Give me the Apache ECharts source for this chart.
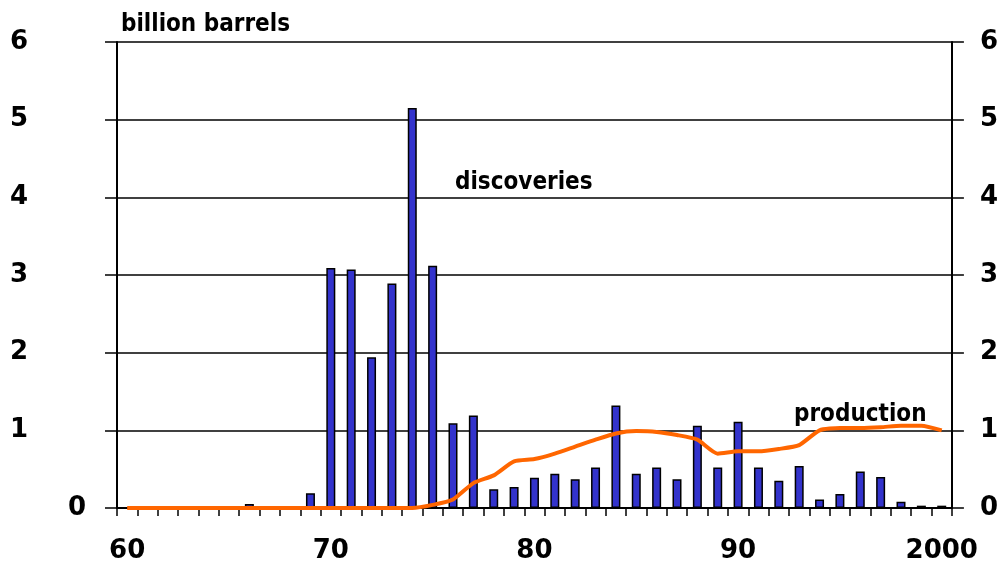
<!DOCTYPE html>
<html><head><meta charset="utf-8">
<script src="https://cdn.jsdelivr.net/npm/echarts@6/dist/echarts.min.js"></script>
<style>html,body{margin:0;padding:0;background:#fff}#c{width:1001px;height:565px}</style>
</head><body><div id="c"></div>
<script>
var years = ['60','61','62','63','64','65','66','67','68','69',
             '70','71','72','73','74','75','76','77','78','79',
             '80','81','82','83','84','85','86','87','88','89',
             '90','91','92','93','94','95','96','97','98','99','2000'];
var discoveries = [0,0,0,0,0,0,0.05,0,0,0.19,
                   3.09,3.07,1.94,2.89,5.15,3.12,1.09,1.19,0.24,0.27,
                   0.39,0.44,0.37,0.52,1.32,0.44,0.52,0.37,1.06,0.52,
                   1.11,0.52,0.35,0.54,0.11,0.18,0.47,0.40,0.08,0.03,0.03];
var production = [0,0,0,0,0,0,0,0,0,0,
                  0,0,0,0,0,0.04,0.11,0.32,0.42,0.60,
                  0.63,0.70,0.79,0.88,0.96,0.99,0.98,0.94,0.88,0.70,
                  0.73,0.73,0.76,0.81,1.00,1.03,1.03,1.04,1.06,1.06,1.00];
var yTicks = [0,1,2,3,4,5,6];

var tickFont = {fontFamily:'DejaVu Sans', fontWeight:'bold', fontSize:26, color:'#000'};
var annFont = {fontFamily:'DejaVu Sans Condensed', fontWeight:'bold', fontSize:24, fill:'#000'};

var chart = echarts.init(document.getElementById('c'), null, {renderer:'canvas'});
chart.setOption({
  animation:false,
  backgroundColor:'#fff',
  grid:{left:117, right:48, top:42, bottom:57, containLabel:false},
  xAxis:{
    type:'category', data:years, boundaryGap:true,
    axisLine:{show:true, lineStyle:{color:'#000', width:2}},
    axisTick:{show:true, interval:0, length:8, lineStyle:{color:'#000', width:1.5}},
    axisLabel:Object.assign({interval:9, margin:30}, tickFont),
    splitLine:{show:false}
  },
  yAxis:[{
    type:'value', min:yTicks[0], max:yTicks[yTicks.length-1], interval:1, position:'left',
    axisLine:{show:true, lineStyle:{color:'#000', width:2}},
    axisTick:{show:true, length:12, lineStyle:{color:'#000', width:1.5}},
    axisLabel:Object.assign({margin:31,
      formatter:function(v){ return v===0 ? '0' : '{p|'+v+'}'; },
      rich:{p:Object.assign({padding:[0,58,0,0]}, tickFont)}}, tickFont),
    splitLine:{show:true, lineStyle:{color:'#000', width:1.5}}
  },{
    type:'value', min:yTicks[0], max:yTicks[yTicks.length-1], interval:1, position:'right',
    axisLine:{show:true, lineStyle:{color:'#000', width:2}},
    axisTick:{show:true, length:12, lineStyle:{color:'#000', width:1.5}},
    axisLabel:Object.assign({margin:28}, tickFont),
    splitLine:{show:false}
  }],
  series:[{
    name:'discoveries', type:'bar', data:discoveries, barWidth:9,
    itemStyle:{color:'#3333cc', borderColor:'#000', borderWidth:1.5}, z:2
  },{
    name:'production', type:'line', data:production, smooth:0.2,
    symbol:'none', lineStyle:{color:'#ff6600', width:4}, z:3
  }],
  graphic:[
    {type:'text', left:121, top:13, style:Object.assign({text:'billion barrels'}, annFont)},
    {type:'text', left:455, top:171, style:Object.assign({text:'discoveries'}, annFont)},
    {type:'text', left:794, top:403, style:Object.assign({text:'production'}, annFont)}
  ]
});
</script></body></html>
